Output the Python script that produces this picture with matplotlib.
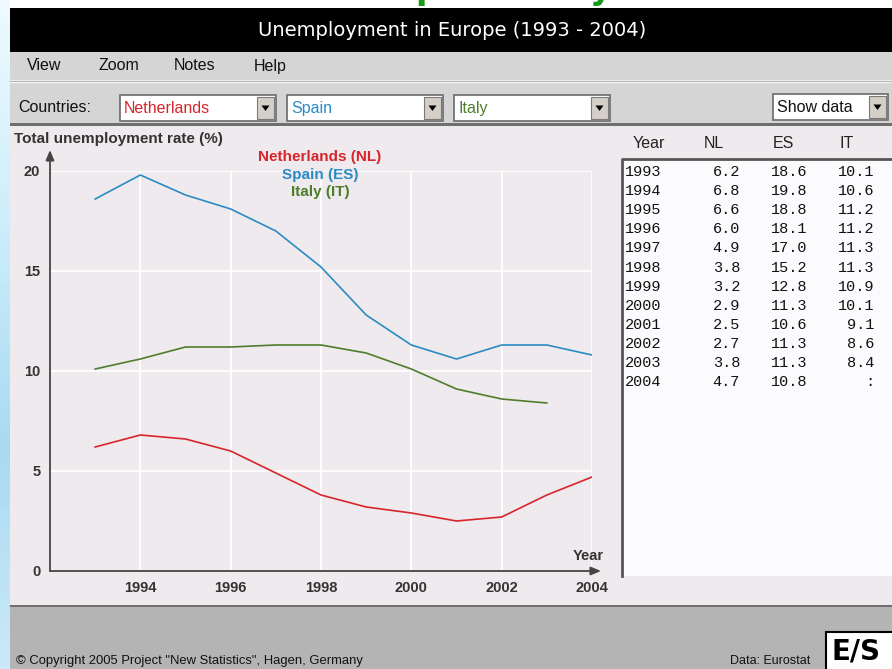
import numpy as np
import matplotlib
matplotlib.use("Agg")
import matplotlib.pyplot as plt
from matplotlib.patches import Rectangle, Polygon
from matplotlib.colors import LinearSegmentedColormap

# ---------------- data ----------------
years = [1993, 1994, 1995, 1996, 1997, 1998, 1999, 2000, 2001, 2002, 2003, 2004]
nl = [6.2, 6.8, 6.6, 6.0, 4.9, 3.8, 3.2, 2.9, 2.5, 2.7, 3.8, 4.7]
es = [18.6, 19.8, 18.8, 18.1, 17.0, 15.2, 12.8, 11.3, 10.6, 11.3, 11.3, 10.8]
it = [10.1, 10.6, 11.2, 11.2, 11.3, 11.3, 10.9, 10.1, 9.1, 8.6, 8.4, np.nan]
series_names = ["Netherlands (NL)", "Spain (ES)", "Italy (IT)"]
codes = ["NL", "ES", "IT"]
countries = ["Netherlands", "Spain", "Italy"]
menu_items = ["View", "Zoom", "Notes", "Help"]
x_ticks = [1994, 1996, 1998, 2000, 2002, 2004]
y_ticks = [0, 5, 10, 15, 20]

C_NL = "#d7262b"
C_ES = "#2b8bc3"
C_IT = "#4e7d2c"
colors = [C_NL, C_ES, C_IT]
PANEL = "#efeaee"
BAR = "#d5d5d5"
FOOT = "#b4b4b4"

W, H = 892, 669
fig = plt.figure(figsize=(W / 100, H / 100), dpi=100)
fig.patch.set_facecolor("white")

# ---------------- background / UI (pixel coordinates) ----------------
bg = fig.add_axes([0, 0, 1, 1], zorder=0)
bg.set_xlim(0, W)
bg.set_ylim(H, 0)
bg.axis("off")

def rect(x0, y0, x1, y1, fc, ec="none", lw=0, z=1):
    bg.add_patch(Rectangle((x0, y0), x1 - x0, y1 - y0, facecolor=fc, edgecolor=ec, linewidth=lw, zorder=z))

# left blue strip gradient
grad = np.linspace(0, 1, 200).reshape(-1, 1)
cm = LinearSegmentedColormap.from_list("b", ["#eefaff", "#cdeefb", "#a9daf2", "#cbe9f8"])
bg.imshow(grad, extent=[0, 10, H, 0], aspect="auto", cmap=cm, zorder=0.5)

# green slide-title remnants at the very top (only descenders visible)
bg.text(427, -1, "p", color="#1a9a1a", fontsize=24, fontweight="bold", ha="center", va="baseline", zorder=0.6)
bg.text(600, -1, "y", color="#1a9a1a", fontsize=24, fontweight="bold", ha="center", va="baseline", zorder=0.6)

# title bar
rect(10, 8, W, 52, "black", z=1)
bg.text(452, 31, "Unemployment in Europe (1993 - 2004)", color="white", fontsize=14,
        family="DejaVu Sans", ha="center", va="center", zorder=2)

# menu bar
rect(10, 52, W, 80, BAR)
bg.plot([10, W], [80.5, 80.5], color="#a8a8a8", lw=1, zorder=2)
bg.plot([10, W], [81.5, 81.5], color="#f4f4f4", lw=1, zorder=2)
for name, x in zip(menu_items, [44, 119, 195, 270]):
    bg.text(x, 66, name, fontsize=11.5, family="Liberation Sans", color="#111",
            ha="center", va="center", zorder=2)

# toolbar
rect(10, 82, W, 123, BAR)
rect(10, 123, W, 126, "#6f6f6f", z=2)
bg.text(18, 107, "Countries:", fontsize=11.5, family="Liberation Sans", color="#111",
        ha="left", va="center", zorder=2)

def dropdown(x0, x1, y0, y1, label, color):
    rect(x0, y0, x1, y1, "white", ec="#6a6a6a", lw=1.2, z=2)
    bx0 = x1 - 19
    rect(bx0, y0 + 2, x1 - 2, y1 - 2, "#d4d0c8", ec="#7a7a7a", lw=0.8, z=3)
    cx = (bx0 + x1 - 2) / 2
    cy = (y0 + y1) / 2
    bg.add_patch(Polygon([[cx - 4, cy - 2.5], [cx + 4, cy - 2.5], [cx, cy + 3]], closed=True,
                         facecolor="black", edgecolor="none", zorder=4))
    bg.text(x0 + 4, cy + 0.5, label, fontsize=11.5, family="Liberation Sans", color=color,
            ha="left", va="center", zorder=3)

dropdown(120, 276, 95, 121, countries[0], C_NL)
dropdown(287, 443, 95, 121, countries[1], C_ES)
dropdown(454, 610, 95, 121, countries[2], C_IT)
dropdown(773, 888, 94, 120, "Show data", "#111")

# main panel
rect(10, 126, W, 605, PANEL)

# footer
rect(10, 605, W, 607, "#6f6f6f", z=2)
rect(10, 607, W, H, FOOT)
bg.text(16, 661, "\u00a9 Copyright 2005 Project \"New Statistics\", Hagen, Germany", fontsize=9.4,
        family="Liberation Sans", color="#111", ha="left", va="center", zorder=2)
bg.text(810, 661, "Data: Eurostat", fontsize=9, family="Liberation Sans", color="#111",
        ha="right", va="center", zorder=2)
rect(826, 632, W + 2, H + 2, "white", ec="black", lw=1.5, z=3)
bg.text(831, 652, "E/S", fontsize=20, fontweight="bold", family="DejaVu Sans", color="black",
        ha="left", va="center", zorder=4)

# data table
hdr_y = 143
bg.text(649, hdr_y, "Year", fontsize=11.5, family="Liberation Sans", color="#222", ha="center", va="center", zorder=2)
for c, x in zip(codes, [714, 783, 847]):
    bg.text(x, hdr_y, c, fontsize=11.5, family="Liberation Sans", color="#222", ha="center", va="center", zorder=2)
rect(621, 158, W + 2, 576, "#fbfbfe", z=2)
bg.plot([621.5, 621.5, W], [576, 158.5, 158.5], color="#555", lw=2, zorder=3)

def fmt(v):
    return ":" if np.isnan(v) else f"{v:.1f}"

for i, yr in enumerate(years):
    yy = 172 + 19.1 * i
    bg.text(625, yy, str(yr), fontsize=11, family="Liberation Mono", color="#111", ha="left", va="center", zorder=4)
    for vals, xr in zip([nl, es, it], [740, 807, 874]):
        bg.text(xr, yy, fmt(vals[i]), fontsize=11, family="Liberation Mono", color="#111",
                ha="right", va="center", zorder=4)

# ---------------- plot axes ----------------
x0, x1, ytop, ybot = 50, 592, 171, 571
ax = fig.add_axes([x0 / W, 1 - ybot / H, (x1 - x0) / W, (ybot - ytop) / H], zorder=2)
ax.set_facecolor(PANEL)
ax.set_xlim(1992, 2004)
ax.set_ylim(0, 20)
for s in ax.spines.values():
    s.set_visible(False)
ax.set_xticks(x_ticks)
ax.set_yticks(y_ticks)
ax.grid(True, color="white", lw=1.3, zorder=0)
ax.set_axisbelow(True)
ax.tick_params(length=0, labelsize=10.5, labelcolor="#333", pad=7)
for lab in ax.get_xticklabels() + ax.get_yticklabels():
    lab.set_fontweight("bold")
    lab.set_family("Liberation Sans")

for vals, col in zip([nl, es, it], colors):
    ax.plot(years, vals, color=col, lw=1.2, zorder=3)

# axis lines with arrows
ax.annotate("", xy=(1992, 21.05), xytext=(1992, 0), xycoords="data",
            arrowprops=dict(arrowstyle="-|>,head_length=0.6,head_width=0.25", color="#444", lw=1.3,
                            shrinkA=0, shrinkB=0), annotation_clip=False)
ax.annotate("", xy=(2004.2, 0), xytext=(1992, 0), xycoords="data",
            arrowprops=dict(arrowstyle="-|>,head_length=0.6,head_width=0.25", color="#444", lw=1.3,
                            shrinkA=0, shrinkB=0), annotation_clip=False)

ax.text(1992 - 36 / 45.17, 21.6, "Total unemployment rate (%)", fontsize=11, fontweight="bold",
        family="Liberation Sans", color="#333", ha="left", va="center", clip_on=False)
ax.text(2004.27, 0.75, "Year", fontsize=10.5, fontweight="bold", family="Liberation Sans",
        color="#333", ha="right", va="center", clip_on=False)
for name, col, yv in zip(series_names, colors, [20.7, 19.8, 18.95]):
    ax.text(1997.98, yv, name, fontsize=11, fontweight="bold", family="Liberation Sans",
            color=col, ha="center", va="center", clip_on=False)

fig.savefig("out.png", dpi=100)
